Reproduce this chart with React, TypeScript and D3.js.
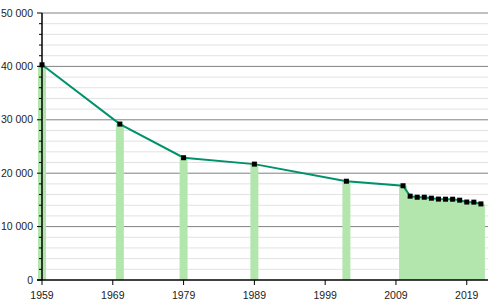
import React from "react";
import * as d3 from "d3";

const years = [1959, 1970, 1979, 1989, 2002, 2010, 2011, 2012, 2013, 2014, 2015, 2016, 2017, 2018, 2019, 2020, 2021];
const population = [40300, 29200, 22900, 21700, 18500, 17650, 15700, 15500, 15500, 15320, 15150, 15130, 15130, 14950, 14600, 14580, 14250];
const xTicks = [1959, 1969, 1979, 1989, 1999, 2009, 2019];
const yTicks = [0, 10000, 20000, 30000, 40000, 50000];

const W = 500, H = 300;
const x = d3.scaleLinear().domain([1959, 2022]).range([42, 488]);
const y = d3.scaleLinear().domain([0, 50000]).range([280, 13]);
const fmt = (v: number) => d3.format(",")(v).replace(/,/g, " ");

export default function App() {
  const minor = d3.range(2000, 50000, 2000).filter((v) => v % 10000 !== 0);
  const line = d3.line<number>().x((_, i) => x(years[i])).y((d) => y(d));
  const barW = 8;
  return (
    <svg width={W} height={H} style={{ position: "absolute", left: 0, top: 0, fontFamily: "Liberation Sans, Arial, sans-serif" }}>
      {minor.map((v) => (
        <line key={"m" + v} x1={x(1959)} x2={x(2022)} y1={y(v)} y2={y(v)} stroke="#e2e2e2" strokeWidth={1} />
      ))}
      {yTicks.filter((v) => v > 0).map((v) => (
        <line key={"g" + v} x1={x(1959)} x2={x(2022)} y1={y(v)} y2={y(v)} stroke="#808080" strokeWidth={1} />
      ))}
      {years.map((yr, i) => (
        <rect key={"b" + yr} x={x(yr) - barW / 2} width={barW} y={y(population[i])} height={y(0) - y(population[i])} fill="#b3e6ad" />
      ))}
      <path d={line(population) || ""} fill="none" stroke="#00916a" strokeWidth={2} />
      {years.map((yr, i) => (
        <rect key={"p" + yr} x={x(yr) - 2.5} y={y(population[i]) - 2.5} width={5} height={5} fill="#000" />
      ))}
      {minor.map((v) => (
        <line key={"mt" + v} x1={39} x2={42} y1={y(v)} y2={y(v)} stroke="#000" />
      ))}
      <line x1={42} x2={42} y1={y(50000)} y2={y(0)} stroke="#000" strokeWidth={1.5} />
      <line x1={37} x2={x(2022)} y1={y(0)} y2={y(0)} stroke="#000" strokeWidth={1.5} />
      {yTicks.map((v) => (
        <g key={"yt" + v}>
          <line x1={37} x2={42} y1={y(v)} y2={y(v)} stroke="#000" />
          <text x={33} y={y(v)} dy="0.35em" textAnchor="end" fontSize={10.5} fill="#222">{fmt(v)}</text>
        </g>
      ))}
      {xTicks.map((t) => (
        <g key={"xt" + t}>
          <line x1={x(t)} x2={x(t)} y1={280} y2={285} stroke="#000" />
          <text x={x(t)} y={299} textAnchor="middle" fontSize={10.5} fill="#222">{t}</text>
        </g>
      ))}
    </svg>
  );
}
